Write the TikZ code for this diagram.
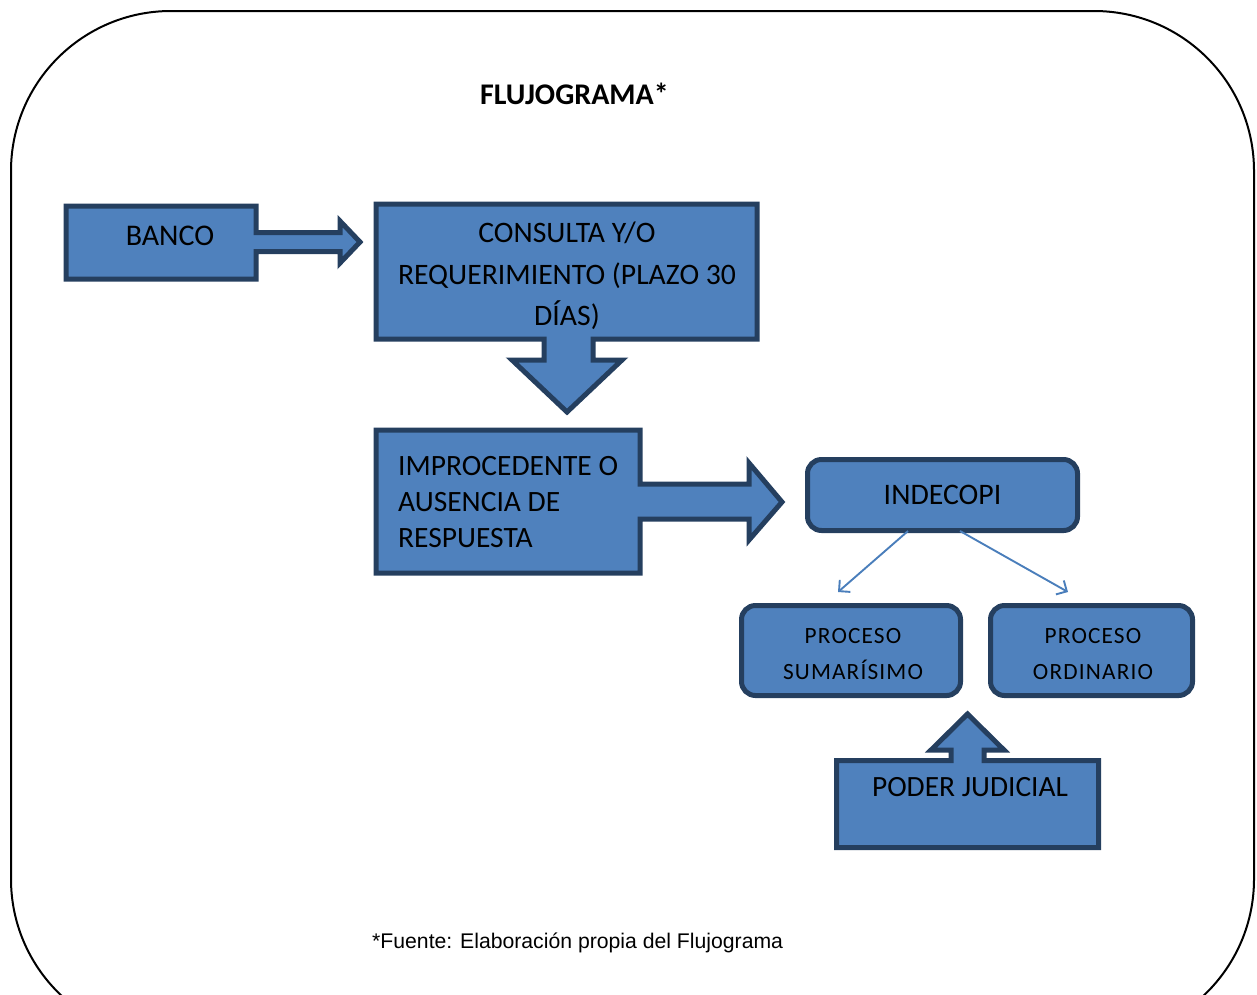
\documentclass[tikz,border=0pt]{standalone}
\usepackage{fontspec}
\setmainfont{Carlito}
\newfontfamily\arialfont{Liberation Sans}
\usetikzlibrary{arrows.meta}
\definecolor{boxfill}{HTML}{4F81BD}
\definecolor{boxline}{HTML}{253F5F}
\definecolor{thinarrow}{HTML}{4A7EBB}
\begin{document}
\begin{tikzpicture}[x=1pt,y=-1pt,
  callout/.style={fill=boxfill,draw=boxline,line width=5pt,line join=miter},
  rbox/.style={fill=boxfill,draw=boxline,line width=5pt,rounded corners=14pt,inner sep=0pt},
  lbl/.style={text=black,inner sep=0pt},
  smalltxt/.style={lbl,align=center,font=\fontsize{23.3}{36}\selectfont\addfontfeatures{LetterSpace=5}},
  thinarr/.style={draw=thinarrow,line width=1.9pt,-{Straight Barb[length=8pt,width=16pt,line width=1.9pt]}}]
\useasboundingbox (0,0) rectangle (1257,994);
\begin{scope}
\clip (0,0) rectangle (1257,994);
\draw[line width=2pt,rounded corners=160pt] (11,11) rectangle (1254,1039);
\end{scope}
% title
\node[lbl,anchor=base,font=\bfseries\fontsize{30}{36}\selectfont] (title) at (574.5,104) {FLUJOGRAMA*};
% BANCO callout
\draw[callout] (66,206) -- (256,206) -- (256,232.5) -- (340,232.5) -- (340,221) -- (360,242) -- (340,263) -- (340,251.5) -- (256,251.5) -- (256,279) -- (66,279) -- cycle;
\node[lbl,anchor=base,font=\fontsize{30}{36}\selectfont] (banco) at (170,245) {BANCO};
% CONSULTA callout
\draw[callout] (376,204) -- (757,204) -- (757,339) -- (593,339) -- (593,360) -- (622,360) -- (567,412) -- (512,360) -- (544,360) -- (544,339) -- (376,339) -- cycle;
\node[lbl,align=center,font=\fontsize{29.7}{41.5}\selectfont] (consulta) at (567,276) {CONSULTA Y/O\\REQUERIMIENTO (PLAZO 30\\DÍAS)};
% IMPROCEDENTE callout
\draw[callout] (376,430) -- (640,430) -- (640,484) -- (749,484) -- (749,463) -- (782,502) -- (749,540) -- (749,519) -- (640,519) -- (640,573) -- (376,573) -- cycle;
\node[lbl,align=left,anchor=west,font=\fontsize{29.5}{36}\selectfont] (improc) at (398,502) {IMPROCEDENTE O\\AUSENCIA DE\\RESPUESTA};
% INDECOPI
\node[rbox,minimum width=270pt,minimum height=71pt,font=\fontsize{29.8}{36}\selectfont] (indecopi) at (942.5,495) {INDECOPI};
% PROCESO boxes
\node[rbox,minimum width=219pt,minimum height=90pt] (sumar) at (851,650.5) {};
\node[smalltxt] (sumartxt) at (853,654.5) {PROCESO\\SUMARÍSIMO};
\node[rbox,minimum width=202pt,minimum height=90pt] (ordin) at (1091.5,650.5) {};
\node[smalltxt] (ordintxt) at (1093,654.5) {PROCESO\\ORDINARIO};
% thin arrows
\coordinate (i1) at (908,531);
\coordinate (s1) at (838,592);
\coordinate (i2) at (960,531);
\coordinate (o1) at (1068,592);
\draw[thinarr] (i1) -- (s1);
\draw[thinarr] (i2) -- (o1);
% PODER JUDICIAL callout
\draw[callout] (836.5,760.5) -- (951,760.5) -- (951,750) -- (931,750) -- (967.5,714) -- (1004,750) -- (984,750) -- (984,760.5) -- (1098.5,760.5) -- (1098.5,847.5) -- (836.5,847.5) -- cycle;
\node[lbl,anchor=base,font=\fontsize{29.4}{36}\selectfont] (poder) at (970,796) {PODER JUDICIAL};
% footnote
\node[lbl,anchor=base west,font=\arialfont\fontsize{21.2}{25}\selectfont] (fuente) at (372,948) {*Fuente: Elaboración propia del Flujograma};
\end{tikzpicture}
\end{document}
